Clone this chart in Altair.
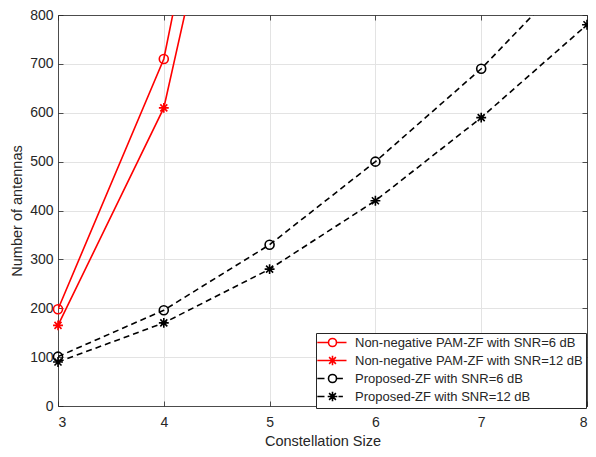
import altair as alt
import pandas as pd

# ---- data ----
x_red = [3, 4, 5]
red_snr6 = [198, 710, 1780]
red_snr12 = [165, 610, 1575]

x_black = [3, 4, 5, 6, 7, 8]
prop_snr6 = [101, 196, 330, 500, 690, 915]
prop_snr12 = [90, 170, 280, 420, 590, 780]

names = [
    "Non-negative PAM-ZF with SNR=6 dB",
    "Non-negative PAM-ZF with SNR=12 dB",
    "Proposed-ZF with SNR=6 dB",
    "Proposed-ZF with SNR=12 dB",
]
x_ticks = [3, 4, 5, 6, 7, 8]
y_ticks = [0, 100, 200, 300, 400, 500, 600, 700, 800]

def long(xs, ys, name):
    return pd.DataFrame({"x": xs, "y": ys, "series": name})

df_r6 = long(x_red, red_snr6, names[0])
df_r12 = long(x_red, red_snr12, names[1])
df_p6 = long(x_black, prop_snr6, names[2])
df_p12 = long(x_black, prop_snr12, names[3])
df_red = pd.concat([df_r6, df_r12])
df_blk = pd.concat([df_p6, df_p12])
df_all = pd.concat([df_red, df_blk])

W, H = 529, 391
FONT = "Liberation Sans"
DARK = "#262626"
RED = "#ff0000"
LW = 1.6

xs = alt.Scale(domain=[3, 8], nice=False, zero=False)
ys = alt.Scale(domain=[0, 800], nice=False, zero=False)

CIRCLE = "M1,0A1,1 0 1,1 -1,0A1,1 0 1,1 1,0Z"
STAR = "M-1.1,0L1.1,0M0,-1.1L0,1.1M-0.78,-0.78L0.78,0.78M-0.78,0.78L0.78,-0.78"
ARMS = "M0,-1.2L0,1.2M-0.85,-0.85L0.85,0.85M-0.85,0.85L0.85,-0.85"
# legend glyphs: solid line + marker, dashed line + marker
LEG_CIRCLE = "M-3.8,0L-1,0M1,0L3.5,0" + CIRCLE
LEG_STAR = "M-3.8,0L3.5,0" + ARMS
LEG_CIRCLE_D = "M-3.8,0L-2,0M1,0L2.6,0" + CIRCLE
LEG_STAR_D = "M-3.8,0L-2,0M-1.2,0L1.2,0M1.5,0L2.6,0" + ARMS

def tick_axis(orient, offset, domain, vals):
    return alt.Axis(orient=orient, offset=offset, labels=False, grid=False,
                    domain=domain, domainColor=DARK, domainWidth=0.8,
                    ticks=True, tickSize=5, tickColor=DARK, tickWidth=0.8,
                    title=None, values=vals)

main_x = alt.Axis(orient="bottom", values=x_ticks, grid=True, gridColor="#e3e3e3",
                  gridWidth=1, ticks=False, tickSize=0, domain=True, domainColor=DARK,
                  domainWidth=0.8, labelFont=FONT, labelFontSize=14, labelColor=DARK,
                  labelPadding=9, title="Constellation Size", titleFont=FONT,
                  titleFontSize=14.5, titleFontWeight="normal", titleColor=DARK,
                  titlePadding=5)
main_y = alt.Axis(orient="left", values=y_ticks, grid=True, gridColor="#e3e3e3",
                  gridWidth=1, ticks=False, tickSize=0, domain=True, domainColor=DARK,
                  domainWidth=0.8, labelFont=FONT, labelFontSize=14, labelColor=DARK,
                  labelPadding=5, title="Number of antennas", titleFont=FONT,
                  titleFontSize=14.5, titleFontWeight="normal", titleColor=DARK,
                  titlePadding=5)

red_lines = alt.Chart(df_red).mark_line(color=RED, strokeWidth=LW, clip=True).encode(
    x=alt.X("x:Q", scale=xs, axis=main_x),
    y=alt.Y("y:Q", scale=ys, axis=main_y),
    detail="series:N",
)

blk_lines = alt.Chart(df_blk).mark_line(color="black", strokeWidth=LW, strokeDash=[6, 4],
                                        clip=True).encode(
    x=alt.X("x:Q", scale=xs, axis=tick_axis("bottom", -H, True, x_ticks)),
    y=alt.Y("y:Q", scale=ys, axis=tick_axis("left", -W, True, y_ticks)),
    detail="series:N",
)

def pts(df, color, shape, size, xax=None, yax=None):
    return alt.Chart(df).transform_filter("datum.y <= 800").mark_point(
        color=color, shape=shape, size=size, filled=False, strokeWidth=LW, opacity=1
    ).encode(
        x=alt.X("x:Q", scale=xs, axis=xax),
        y=alt.Y("y:Q", scale=ys, axis=yax),
    )

p_r6 = pts(df_r6, RED, CIRCLE, 81,
           tick_axis("top", -H, False, x_ticks), tick_axis("right", -W, False, y_ticks))
p_r12 = pts(df_r12, RED, STAR, 81)
p_p6 = pts(df_p6, "black", CIRCLE, 81)
p_p12 = pts(df_p12, "black", STAR, 81)

LEG_W, LEG_H = 271, 73

def leg():
    return alt.Legend(title=None, orient="none", legendX=W - LEG_W, legendY=H - LEG_H,
                      labelFont=FONT, labelFontSize=13, labelColor=DARK, labelLimit=400,
                      symbolSize=64, symbolStrokeWidth=LW, symbolOffset=7, labelOffset=16,
                      symbolOpacity=1, rowPadding=2, padding=3, strokeColor=DARK,
                      fillColor="white", cornerRadius=0)

legend_layer = alt.Chart(df_all).transform_filter("datum.y <= 800").mark_point(
    filled=False, strokeWidth=LW, size=64, opacity=0
).encode(
    x=alt.X("x:Q", scale=xs, axis=None),
    y=alt.Y("y:Q", scale=ys, axis=None),
    color=alt.Color("series:N", scale=alt.Scale(domain=names, range=[RED, RED, "black", "black"]),
                    legend=leg()),
    shape=alt.Shape("series:N", scale=alt.Scale(domain=names,
                                                range=[LEG_CIRCLE, LEG_STAR, LEG_CIRCLE_D, LEG_STAR_D]),
                    legend=leg()),
)

chart = alt.layer(red_lines, blk_lines, p_r6, p_r12, p_p6, p_p12, legend_layer).resolve_axis(
    x="independent", y="independent"
).properties(
    width=W, height=H,
    autosize=alt.AutoSizeParams(type="none"),
    padding={"left": 50, "top": 7, "right": 1, "bottom": 43},
).configure_view(stroke=None).configure(background="white")

chart.save("out.html", embed_options={"renderer": "svg", "actions": False})
